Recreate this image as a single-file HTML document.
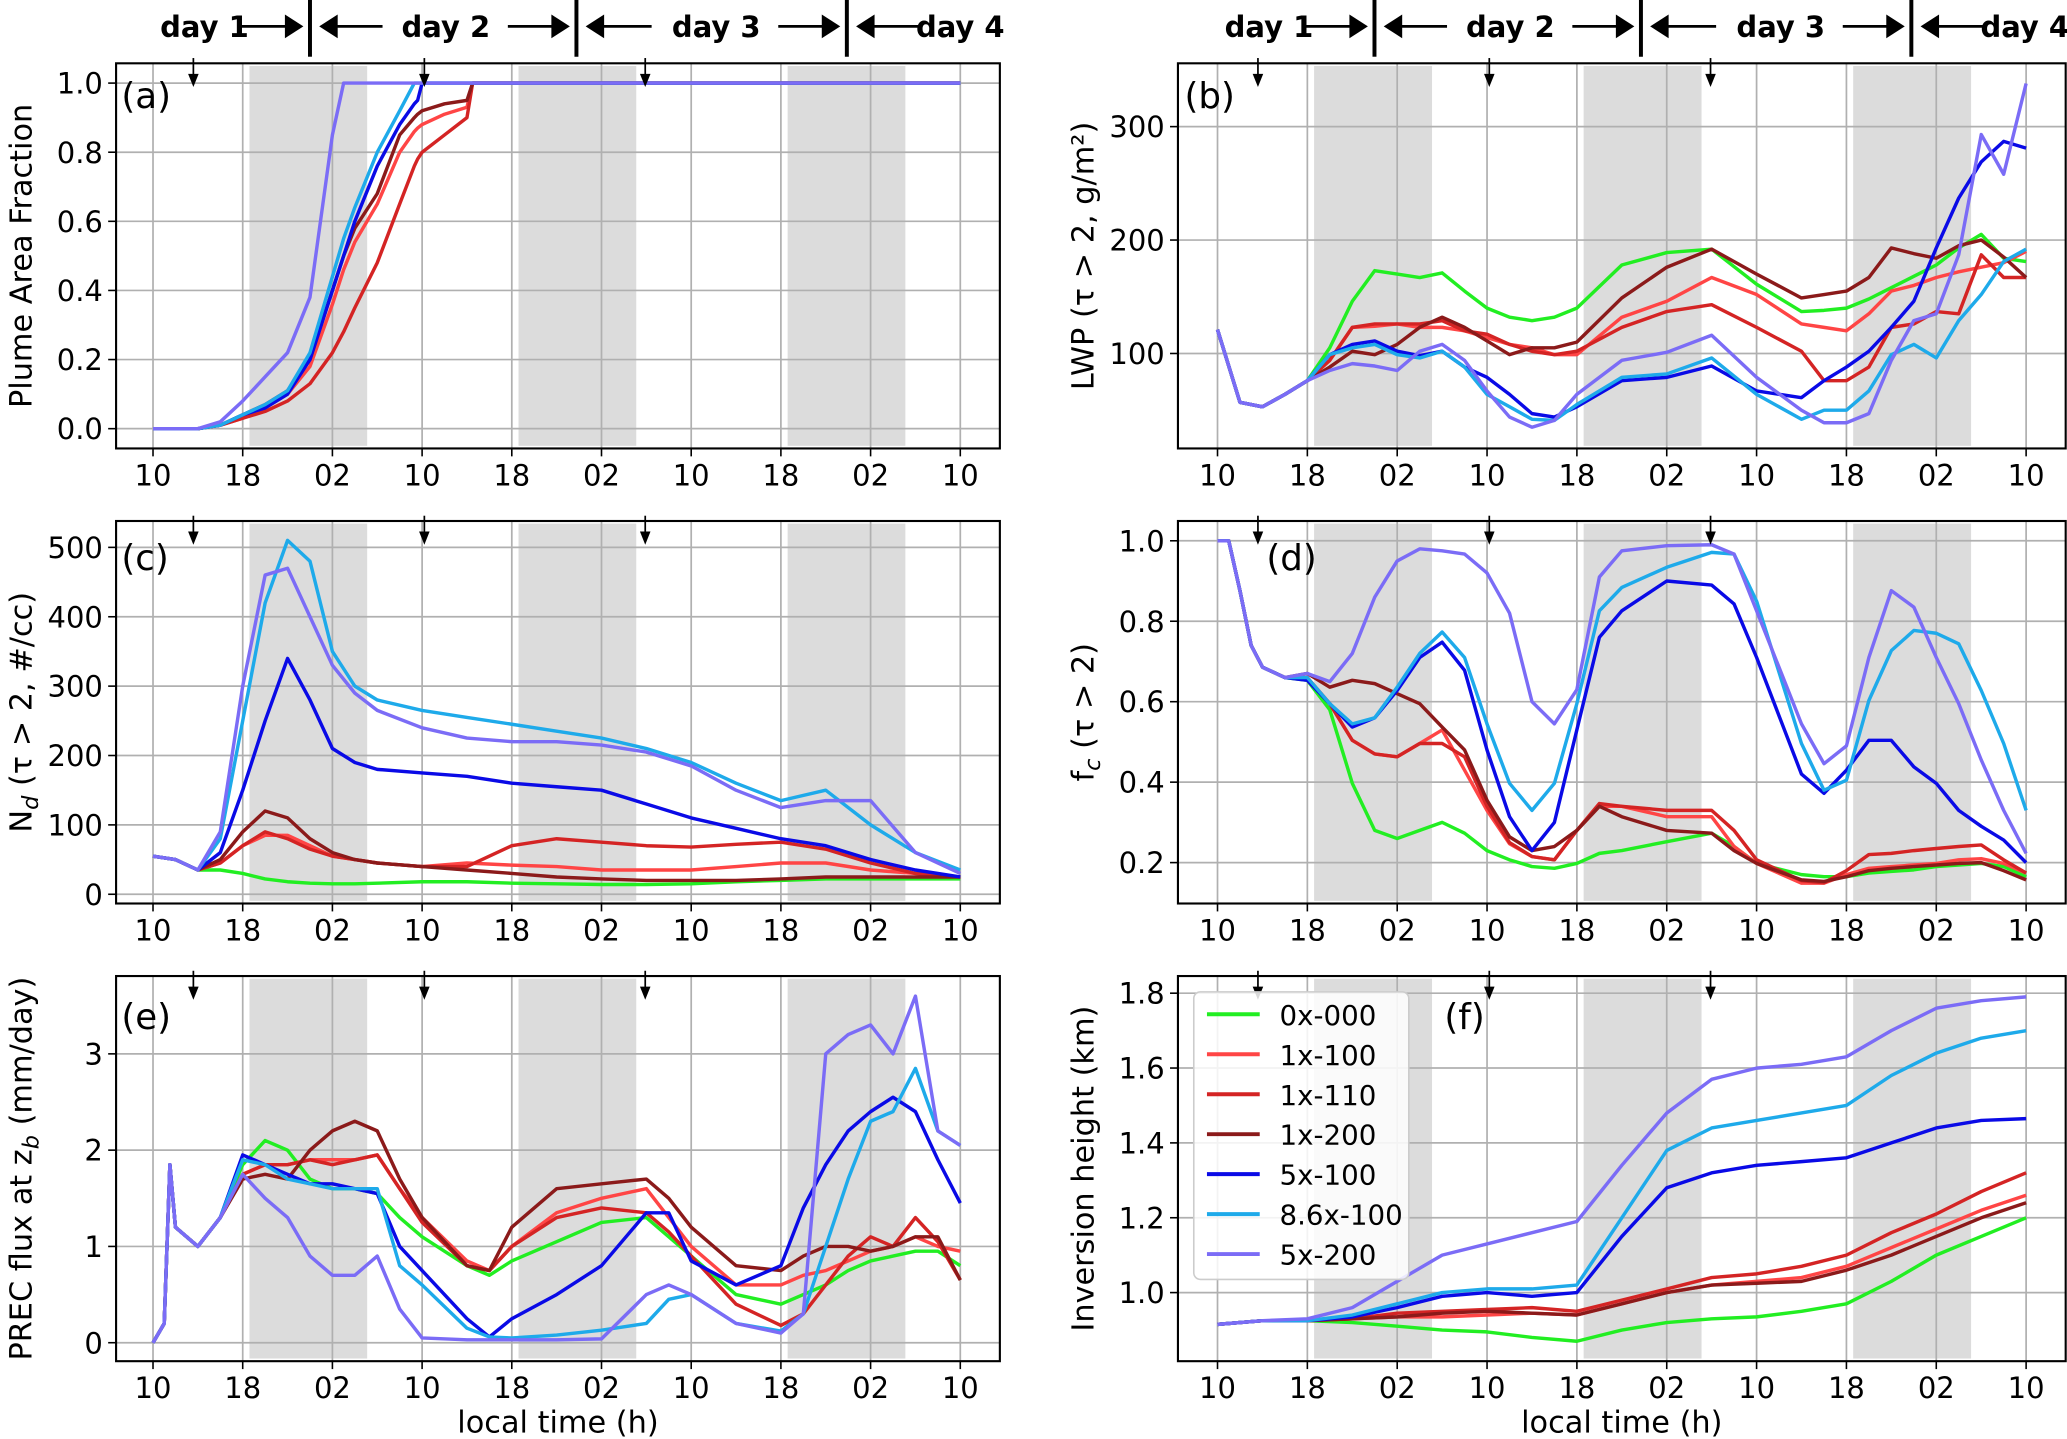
<!DOCTYPE html>
<html><head><meta charset="utf-8"><title>Plume experiment panels</title>
<style>
html,body{margin:0;padding:0;background:#fff;}
svg{display:block;font-family:"DejaVu Sans","Liberation Sans",sans-serif;}
</style></head>
<body>
<svg id="fig" width="2067" height="1439" viewBox="0 0 1567 1091" preserveAspectRatio="none" xmlns="http://www.w3.org/2000/svg"></svg>
<script>
// ---------- data ----------
const seriesNames = ["0x-000","1x-100","1x-110","1x-200","5x-100","8.6x-100","5x-200"];
const seriesColors = ["#22ee22","#ff4545","#d42424","#8b1a1a","#0a0ae6","#1eaaea","#7b6cf6"];
const xTickLabels = ["10","18","02","10","18","02","10","18","02","10"];
const xTickHours = [0,8,16,24,32,40,48,56,64,72];
const nightStarts = [8.6,32.6,56.6];
const nightEnds = [19.1,43.1,67.1];
const arrowHours = [3.6,24.2,43.9];

// (a) plume area fraction
const tA = [0,4,6,8,10,12,14,16,17,18,20,22,23.3,23.6,24,26,28,28.5,72];
const aVals = [
  null,
  [0,0,0.01,0.03,0.06,0.1,0.18,0.36,0.46,0.54,0.65,0.8,0.86,0.87,0.88,0.91,0.93,1,1],
  [0,0,0.01,0.03,0.05,0.08,0.13,0.22,0.28,0.35,0.48,0.65,0.76,0.78,0.8,0.85,0.9,1,1],
  [0,0,0.01,0.04,0.07,0.11,0.2,0.4,0.5,0.58,0.68,0.85,0.9,0.91,0.92,0.94,0.95,1,1],
  [0,0,0.01,0.04,0.06,0.1,0.2,0.4,0.5,0.6,0.76,0.88,0.94,0.95,1,1,1,1,1],
  [0,0,0.01,0.04,0.07,0.11,0.22,0.44,0.55,0.64,0.8,0.92,1,1,1,1,1,1,1],
  [0,0,0.02,0.08,0.15,0.22,0.38,0.85,1,1,1,1,1,1,1,1,1,1,1]
];
// (b) LWP
const tB = [0,2,4,6,8,10,12,14,16,18,20,22,24,26,28,30,32,36,40,44,48,52,54,56,58,60,62,64,66,68,70,72];
const bVals = [
  [121,57,53,64,76,105,146,173,170,167,171,155,140,132,129,132,140,178,189,192,161,137,138,140,148,158,168,178,193,205,184,181],
  [121,57,53,64,76,94,123,124,126,123,123,120,114,108,105,99,99,132,146,167,152,126,123,120,135,155,160,167,172,176,180,190],
  [121,57,53,64,76,94,123,126,126,126,129,120,117,108,102,99,102,123,137,143,123,102,76,76,88,123,126,137,135,187,167,167],
  [121,57,53,64,76,88,102,99,108,123,132,123,111,99,105,105,110,149,176,192,170,149,152,155,167,193,188,184,195,200,185,167],
  [121,57,53,64,76,99,108,111,102,98,102,88,79,64,47,44,53,76,79,89,67,61,76,88,102,123,146,193,237,269,287,281],
  [121,57,53,64,76,99,105,108,99,96,102,88,64,53,42,41,55,79,82,96,64,42,50,50,67,99,108,96,129,152,181,192],
  [121,57,53,64,76,85,91,89,85,102,108,94,67,44,35,41,64,94,101,116,79,50,39,39,47,94,129,135,187,293,258,338]
];
// (c) Nd
const tC = [0,2,4,6,8,10,12,14,16,18,20,24,28,32,36,40,44,48,52,56,60,64,68,72];
const cVals = [
  [55,50,35,35,30,22,18,16,15,15,16,18,18,16,15,14,14,15,18,20,22,22,22,22],
  [55,50,35,45,70,85,85,70,55,50,45,40,45,42,40,35,35,35,40,45,45,35,30,25],
  [55,50,35,45,70,90,80,65,55,50,45,40,40,70,80,75,70,68,72,75,65,45,30,25],
  [55,50,35,50,90,120,110,80,60,50,45,40,35,30,25,22,20,20,20,22,25,25,25,25],
  [55,50,35,60,150,250,340,280,210,190,180,175,170,160,155,150,130,110,95,80,70,50,35,25],
  [55,50,35,80,250,420,510,480,350,300,280,265,255,245,235,225,210,190,160,135,150,100,60,35],
  [55,50,35,90,300,460,470,400,330,290,265,240,225,220,220,215,205,185,150,125,135,135,60,30]
];
// (d) cloud fraction
const tD = [0,1,2,3,4,6,8,10,12,14,16,18,20,22,24,26,28,30,32,34,36,40,44,46,48,52,54,56,58,60,62,64,66,68,70,72];
const dVals = [
  [1,1,.876,.74,.686,.66,.653,.58,.397,.28,.26,.28,.30,.273,.23,.207,.19,.186,.198,.223,.23,.252,.273,.24,.198,.17,.165,.165,.174,.178,.182,.19,.194,.198,.19,.165],
  [1,1,.876,.74,.686,.66,.66,.595,.504,.47,.463,.496,.53,.43,.33,.247,.215,.207,.28,.34,.34,.314,.314,.24,.198,.149,.149,.17,.186,.19,.194,.198,.207,.21,.198,.174],
  [1,1,.876,.74,.686,.66,.66,.595,.504,.47,.463,.496,.496,.463,.34,.25,.215,.207,.28,.347,.34,.33,.33,.28,.207,.155,.15,.18,.22,.223,.23,.235,.24,.244,.207,.174],
  [1,1,.876,.74,.686,.66,.67,.636,.653,.645,.62,.595,.537,.48,.355,.264,.23,.24,.28,.34,.314,.28,.273,.23,.198,.157,.153,.165,.18,.186,.19,.194,.198,.2,.18,.157],
  [1,1,.876,.74,.686,.66,.653,.595,.537,.56,.628,.71,.748,.678,.48,.314,.23,.30,.53,.76,.826,.90,.89,.843,.71,.42,.372,.43,.504,.504,.438,.397,.33,.29,.256,.2],
  [1,1,.876,.74,.686,.66,.66,.595,.545,.56,.636,.72,.773,.71,.545,.397,.33,.397,.595,.826,.884,.934,.971,.967,.85,.496,.38,.405,.603,.727,.777,.77,.744,.628,.496,.33],
  [1,1,.876,.74,.686,.66,.67,.65,.72,.86,.95,.98,.975,.967,.92,.82,.60,.545,.63,.91,.975,.988,.99,.967,.826,.545,.446,.49,.71,.876,.835,.71,.595,.455,.33,.223]
];
// (e) precipitation flux
const tE = [0,1,1.5,2,4,6,8,10,12,14,16,18,20,22,24,28,30,32,36,40,44,46,48,52,56,58,60,62,64,66,68,70,72];
const eVals = [
  [0,.2,1.85,1.2,1.0,1.3,1.85,2.1,2.0,1.7,1.6,1.6,1.55,1.3,1.1,0.8,0.7,0.85,1.05,1.25,1.3,1.1,0.9,0.5,0.4,0.5,0.6,0.75,0.85,0.9,0.95,0.95,0.8],
  [0,.2,1.85,1.2,1.0,1.3,1.75,1.85,1.85,1.9,1.9,1.9,1.95,1.6,1.3,0.85,0.75,1.0,1.35,1.5,1.6,1.3,1.0,0.6,0.6,0.7,0.75,0.85,0.95,1.0,1.1,1.0,0.95],
  [0,.2,1.85,1.2,1.0,1.3,1.75,1.85,1.85,1.9,1.85,1.9,1.95,1.6,1.25,0.8,0.75,1.0,1.3,1.4,1.35,1.15,0.9,0.4,0.18,0.3,0.6,0.9,1.1,1.0,1.3,1.05,0.65],
  [0,.2,1.85,1.2,1.0,1.3,1.7,1.75,1.7,2.0,2.2,2.3,2.2,1.7,1.3,0.8,0.75,1.2,1.6,1.65,1.7,1.5,1.2,0.8,0.75,0.9,1.0,1.0,0.95,1.0,1.1,1.1,0.65],
  [0,.2,1.85,1.2,1.0,1.3,1.95,1.85,1.75,1.65,1.65,1.6,1.55,1.0,0.75,0.25,0.06,0.25,0.5,0.8,1.35,1.35,0.85,0.6,0.8,1.4,1.85,2.2,2.4,2.55,2.4,1.9,1.45],
  [0,.2,1.85,1.2,1.0,1.3,1.9,1.85,1.7,1.65,1.6,1.6,1.6,0.8,0.6,0.15,0.06,0.05,0.08,0.13,0.2,0.45,0.5,0.2,0.12,0.3,1.0,1.7,2.3,2.4,2.85,2.2,2.05],
  [0,.2,1.85,1.2,1.0,1.3,1.75,1.5,1.3,0.9,0.7,0.7,0.9,0.35,0.05,0.03,0.03,0.03,0.03,0.04,0.5,0.6,0.5,0.2,0.1,0.3,3.0,3.2,3.3,3.0,3.6,2.2,2.05]
];
// (f) inversion height
const tF = [0,4,8,12,16,20,24,28,32,36,40,44,48,52,56,60,64,68,72];
const fVals = [
  [.915,.925,.925,.92,.91,.9,.895,.88,.87,.9,.92,.93,.935,.95,.97,1.03,1.1,1.15,1.2],
  [.915,.925,.925,.93,.935,.935,.94,.945,.94,.97,1.0,1.02,1.03,1.04,1.07,1.12,1.17,1.22,1.26],
  [.915,.925,.925,.93,.945,.95,.955,.96,.95,.98,1.01,1.04,1.05,1.07,1.1,1.16,1.21,1.27,1.32],
  [.915,.925,.925,.93,.935,.945,.95,.945,.94,.97,1.0,1.02,1.025,1.03,1.06,1.1,1.15,1.2,1.24],
  [.915,.925,.925,.935,.96,.99,1.0,.99,1.0,1.15,1.28,1.32,1.34,1.35,1.36,1.4,1.44,1.46,1.465],
  [.915,.925,.925,.94,.97,1.0,1.01,1.01,1.02,1.2,1.38,1.44,1.46,1.48,1.5,1.58,1.64,1.68,1.7],
  [.915,.925,.93,.96,1.03,1.1,1.13,1.16,1.19,1.34,1.48,1.57,1.6,1.61,1.63,1.7,1.76,1.78,1.79]
];
const yTicksA = [0,0.2,0.4,0.6,0.8,1.0];
const yTicksB = [100,200,300];
const yTicksC = [0,100,200,300,400,500];
const yTicksD = [0.2,0.4,0.6,0.8,1.0];
const yTicksE = [0,1,2,3];
const yTicksF = [1.0,1.2,1.4,1.6,1.8];

// ---------- drawing ----------
const NS = "http://www.w3.org/2000/svg";
const svg = document.getElementById("fig");
function mk(tag, attrs, parent){
  const e = document.createElementNS(NS, tag);
  for (const k in attrs) e.setAttribute(k, attrs[k]);
  (parent||svg).appendChild(e);
  return e;
}
const colL = {x0:88, x1:758, h0:116, ph:8.5};
const colR = {x0:893, x1:1566, h0:923, ph:8.514};
const panels = [
  {id:"a", col:colL, top:48, bot:340, v0:0, p0:325, v1:1, p1:63, t:tA, vals:aVals, ticks:yTicksA, fmt:v=>v.toFixed(1), ylab:"Plume Area Fraction", lx:92, ly:72},
  {id:"b", col:colR, top:48, bot:340, v0:100, p0:268, v1:300, p1:96, t:tB, vals:bVals, ticks:yTicksB, fmt:v=>String(v), ylab:"LWP (τ > 2, g/m²)", lx:898, ly:72},
  {id:"c", col:colL, top:395, bot:685, v0:0, p0:678, v1:500, p1:415, t:tC, vals:cVals, ticks:yTicksC, fmt:v=>String(v), ylab:"N_d (τ > 2, #/cc)", lx:92, ly:422},
  {id:"d", col:colR, top:395, bot:685, v0:0.2, p0:654, v1:1.0, p1:410, t:tD, vals:dVals, ticks:yTicksD, fmt:v=>v.toFixed(1), ylab:"f_c (τ > 2)", lx:960, ly:422},
  {id:"e", col:colL, top:740, bot:1032, v0:0, p0:1018, v1:3, p1:799, t:tE, vals:eVals, ticks:yTicksE, fmt:v=>String(v), ylab:"PREC flux at z_b (mm/day)", lx:92, ly:770},
  {id:"f", col:colR, top:740, bot:1032, v0:1.0, p0:980, v1:1.8, p1:753, t:tF, vals:fVals, ticks:yTicksF, fmt:v=>v.toFixed(1), ylab:"Inversion height (km)", lx:1095, ly:770}
];

function drawYLabel(p, g){
  const cx = p.col.x0 - 64, cy = (p.top + p.bot)/2;
  const t = mk("text", {x:cx, y:cy, "font-size":23, "text-anchor":"middle", transform:`rotate(-90 ${cx} ${cy})`, fill:"#000"}, g);
  
  
  const parts = p.ylab.split("_");
  if (parts.length === 1) { t.textContent = p.ylab; return; }
  t.appendChild(document.createTextNode(parts[0]));
  const sub = mk("tspan", {"font-size":17, dy:5, "font-style":"italic"}, t);
  sub.textContent = parts[1][0];
  const rest = mk("tspan", {dy:-5}, t);
  rest.textContent = parts[1].slice(1);
}

function drawArrow(x, y1, y2, g){
  mk("line", {x1:x, y1:y1, x2:x, y2:y2-8, stroke:"#000", "stroke-width":1.3}, g);
  mk("polygon", {points:`${x-4},${y2-10} ${x+4},${y2-10} ${x},${y2}`, fill:"#000"}, g);
}

panels.forEach(p => {
  const g = mk("g", {});
  
  
  const X = h => p.col.h0 + h*p.col.ph;
  const Y = v => p.p0 + (v - p.v0) * (p.p1 - p.p0) / (p.v1 - p.v0);
  nightStarts.forEach((s,i) => {
    const r = mk("rect", {x:X(s), y:p.top+2, width:X(nightEnds[i])-X(s), height:p.bot-p.top-4, fill:"#dcdcdc"}, g);
    
    
  });
  xTickHours.forEach(h => mk("line", {x1:X(h), y1:p.top, x2:X(h), y2:p.bot, stroke:"#b0b0b0", "stroke-width":1.3}, g));
  p.ticks.forEach(v => mk("line", {x1:p.col.x0, y1:Y(v), x2:p.col.x1, y2:Y(v), stroke:"#b0b0b0", "stroke-width":1.3}, g));
  p.vals.forEach((vals, si) => {
    if (!vals) return;
    const pts = p.t.map((t,i) => X(t).toFixed(1) + "," + Y(vals[i]).toFixed(1)).join(" ");
    const pl = mk("polyline", {points:pts, fill:"none", stroke:seriesColors[si], "stroke-width":2.6, "stroke-linejoin":"round"}, g);
    
    
  });
  const fr = mk("rect", {x:p.col.x0, y:p.top, width:p.col.x1-p.col.x0, height:p.bot-p.top, fill:"none", stroke:"#000", "stroke-width":1.6}, g);
  
  
  xTickHours.forEach((h,i) => {
    mk("line", {x1:X(h), y1:p.bot, x2:X(h), y2:p.bot+6, stroke:"#000", "stroke-width":1.2}, g);
    const t = mk("text", {x:X(h), y:p.bot+28, "font-size":22, "text-anchor":"middle"}, g);
    
    
    t.textContent = xTickLabels[i];
  });
  p.ticks.forEach(v => {
    mk("line", {x1:p.col.x0-6, y1:Y(v), x2:p.col.x0, y2:Y(v), stroke:"#000", "stroke-width":1.2}, g);
    const t = mk("text", {x:p.col.x0-10, y:Y(v)+8, "font-size":22, "text-anchor":"end"}, g);
    
    
    t.textContent = p.fmt(v);
  });
  drawYLabel(p, g);
  arrowHours.forEach(h => drawArrow(X(h), p.top-4, p.top+18, g));
  const lt = mk("text", {x:p.lx, y:p.ly+10, "font-size":27}, g);
  
  
  lt.textContent = "(" + p.id + ")";
  if (p.id === "e" || p.id === "f") {
    const xt = mk("text", {x:(p.col.x0+p.col.x1)/2, y:1086, "font-size":23, "text-anchor":"middle"}, g);
    
    
    xt.textContent = "local time (h)";
  }
});

function hArrow(x1, x2, y, g){
  const dir = x2 > x1 ? 1 : -1;
  mk("line", {x1:x1, y1:y, x2:x2-dir*12, y2:y, stroke:"#000", "stroke-width":2}, g);
  mk("polygon", {points:`${x2},${y} ${x2-dir*14},${y-9} ${x2-dir*14},${y+9}`, fill:"#000"}, g);
}
[0, 807].forEach((off, k) => {
  const g = mk("g", {});
  
  
  [235, 437, 642].forEach(x => mk("line", {x1:x+off, y1:0, x2:x+off, y2:43, stroke:"#000", "stroke-width":3}, g));
  const labels = [["day 1",155],["day 2",338],["day 3",543],["day 4",728]];
  labels.forEach(([s,x]) => {
    const t = mk("text", {x:x+off, y:28, "font-size":22, "font-weight":"bold", "text-anchor":"middle"}, g);
    
    
    t.textContent = s;
  });
  hArrow(182+off, 230+off, 20, g);
  hArrow(290+off, 242+off, 20, g);
  hArrow(385+off, 432+off, 20, g);
  hArrow(494+off, 444+off, 20, g);
  hArrow(590+off, 637+off, 20, g);
  hArrow(698+off, 649+off, 20, g);
});

const lg = mk("g", {});


mk("rect", {x:905, y:752, width:163, height:218, rx:5, fill:"#fff", "fill-opacity":0.85, stroke:"#cccccc", "stroke-width":1.2}, lg);
seriesNames.forEach((n,i) => {
  const y = 769 + i*30.3;
  const e = mk("g", {}, lg);
  
  
  mk("line", {x1:915, y1:y, x2:955, y2:y, stroke:seriesColors[i], "stroke-width":3}, e);
  const t = mk("text", {x:970, y:y+8, "font-size":21}, e);
  t.textContent = n;
});
</script>
</body></html>
